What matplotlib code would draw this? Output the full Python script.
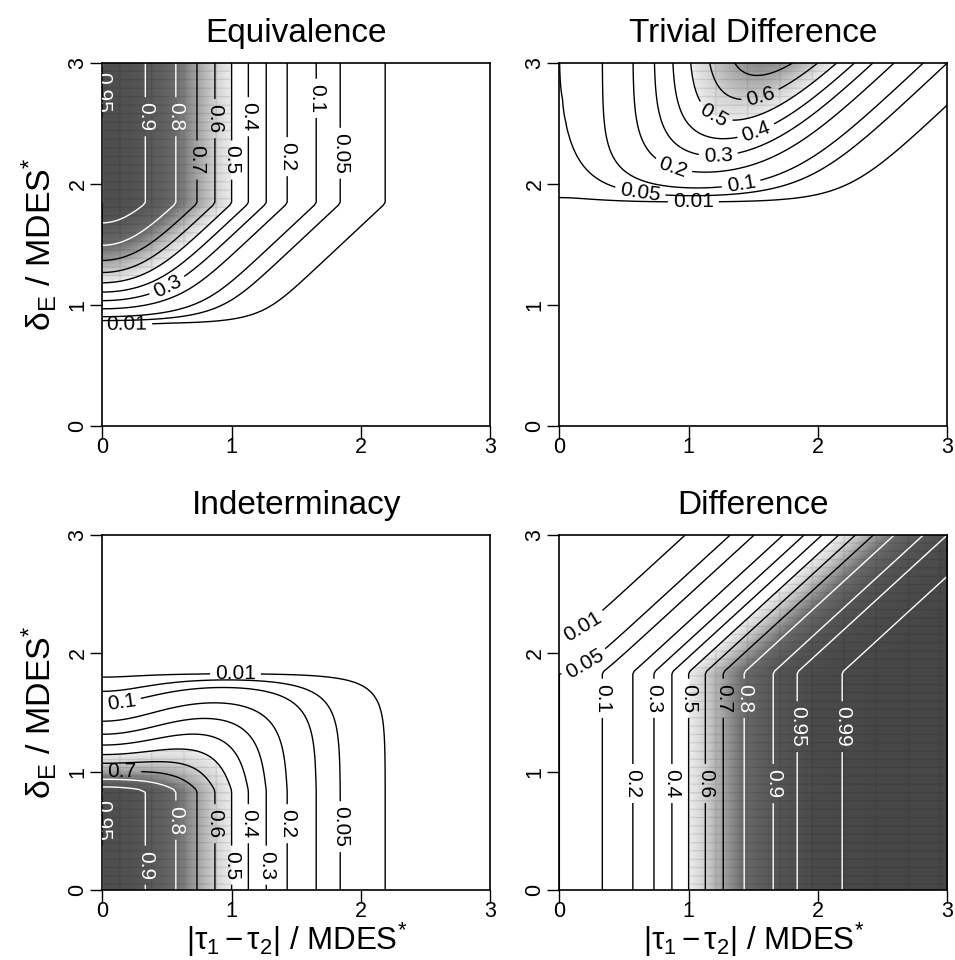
import numpy as np
import matplotlib
matplotlib.use("Agg")
import matplotlib.pyplot as plt
from matplotlib.colors import LinearSegmentedColormap

plt.rcParams['font.family'] = ['Liberation Sans', 'DejaVu Sans']
plt.rcParams['mathtext.fontset'] = 'custom'
plt.rcParams['mathtext.rm'] = 'Liberation Sans'
plt.rcParams['mathtext.it'] = 'Liberation Sans:italic'

# Critical values: 95% CI for the difference test, 90% CI for equivalence (TOST)
z_diff = 1.96
z_equiv = 1.645

titles = ["Equivalence", "Trivial Difference", "Indeterminacy", "Difference"]
levels = [0.01, 0.05, 0.1, 0.2, 0.3, 0.4, 0.5, 0.6, 0.7, 0.8, 0.9, 0.95, 0.99]
ticks = [0, 1, 2, 3]

# where each contour label sits (x, y in axis units)
labels_equiv = [(0.02, 2.76), (0.317, 2.556), (0.541, 2.556), (0.704, 2.198), (0.846, 2.54),
                (0.975, 2.198), (1.104, 2.556), (0.498, 1.165), (1.40, 2.226), (1.632, 2.708),
                (1.813, 2.254), (0.189, 0.83)]
labels_trivial = [(1.552, 2.736), (1.204, 2.584), (1.527, 2.419), (1.23, 2.226), (0.882, 2.143),
                  (1.41, 1.978), (0.624, 1.923), (1.036, 1.83)]
labels_indet = [(1.03, 1.835), (0.15, 1.583), (0.15, 0.986), (0.02, 0.59), (0.562, 0.59),
                (0.33, 0.21), (0.858, 0.56), (1.117, 0.56), (1.413, 0.56), (1.825, 0.535),
                (0.995, 0.21), (1.258, 0.21)]
labels_diff = [(0.173, 2.24), (0.186, 1.93), (0.315, 1.62), (0.689, 1.62), (0.974, 1.62),
               (1.232, 1.62), (1.425, 1.62), (0.56, 0.90), (0.856, 0.90), (1.114, 0.90),
               (1.643, 0.90), (1.826, 1.38), (2.16, 1.38)]
label_sets = [labels_equiv, labels_trivial, labels_indet, labels_diff]

# estimate d ~ N(x, s) in MDES* units, where MDES* = z_diff * SE
s = 1.0 / z_diff
w_diff = z_diff * s
w_equiv = z_equiv * s


def erf(v):
    sign = np.sign(v)
    a = np.abs(v)
    t = 1.0 / (1.0 + 0.3275911 * a)
    poly = ((((1.061405429 * t - 1.453152027) * t + 1.421413741) * t
             - 0.284496736) * t + 0.254829592) * t
    return sign * (1.0 - poly * np.exp(-a * a))


def Phi(v):
    return 0.5 * (1.0 + erf(v / np.sqrt(2.0)))


def p_abs_below(a, x):
    """P(|d| < a) for d ~ N(x, s); zero when a <= 0."""
    a = np.maximum(a, 0.0)
    return np.where(a > 0, Phi((a - x) / s) - Phi((-a - x) / s), 0.0)


def outcome_probs(x, y):
    inside_ci = p_abs_below(np.full_like(x, w_diff), x)
    margin = y - w_equiv
    eq = p_abs_below(np.minimum(w_diff, margin), x)
    triv = np.maximum(p_abs_below(margin, x) - inside_ci, 0.0)
    indet = inside_ci - eq
    diff = 1.0 - p_abs_below(np.maximum(w_diff, margin), x)
    return [eq, triv, indet, diff]


gx = np.linspace(0, 3, 121)
GX, GY = np.meshgrid(gx, gx)
fields = outcome_probs(GX, GY)

fx = np.linspace(0, 3, 1001)
FX, FY = np.meshgrid(fx, fx)
fine = outcome_probs(FX, FY)

shade = LinearSegmentedColormap.from_list(
    "shade",
    [(0.0, (1, 1, 1)), (0.4999, (1, 1, 1)), (0.5, (0.93, 0.93, 0.93)),
     (0.6, (0.82, 0.82, 0.82)), (0.7, (0.64, 0.64, 0.64)), (0.8, (0.42, 0.42, 0.42)),
     (0.9, (0.34, 0.34, 0.34)), (0.95, (0.31, 0.31, 0.31)), (1.0, (0.28, 0.28, 0.28))])

line_colors = ['white' if lv >= 0.8 else 'black' for lv in levels]

# faint tile seams of the shaded raster
seam_dx, seam_dy = 0.248, 0.0704
seam_x0 = [0.137, 0.216, 0.137, 0.216]
seam_y0 = 0.048

xlabel_text = r'$\mathregular{|\tau_1\,{-}\,\tau_2|}$ / MDES$^\mathregular{*}$'
ylabel_text = r'δ$_\mathregular{E}$ / MDES$^\mathregular{*}$'

W, H = 955, 960
fig = plt.figure(figsize=(W / 100, H / 100), dpi=100)
boxes = [(102.3, 63, 490.3, 426), (559.3, 63, 947.3, 426),
         (102.3, 535, 490.3, 890), (559.3, 535, 947.3, 890)]

for i, (x0, y0, x1, y1) in enumerate(boxes):
    ax = fig.add_axes([x0 / W, 1 - y1 / H, (x1 - x0) / W, (y1 - y0) / H])
    ax.imshow(fine[i], extent=[0, 3, 0, 3], origin='lower', cmap=shade,
              vmin=0, vmax=1, interpolation='bilinear', aspect='auto')

    sx = np.abs(((FX - seam_x0[i] + seam_dx / 2) % seam_dx) - seam_dx / 2) < 0.0045
    sy = np.abs(((FY - seam_y0 + seam_dy / 2) % seam_dy) - seam_dy / 2) < 0.0045
    seam = np.zeros(FX.shape + (4,))
    seam[..., 3] = np.where((sx | sy) & (fine[i] >= 0.5), 0.12, 0.0)
    ax.imshow(seam, extent=[0, 3, 0, 3], origin='lower', aspect='auto',
              interpolation='antialiased')

    cs = ax.contour(GX, GY, fields[i], levels=levels, colors=line_colors, linewidths=1.0)
    texts = ax.clabel(cs, manual=label_sets[i], inline=True, inline_spacing=5,
                      fmt=lambda v: f"{v:g}", fontsize=15)
    for t in texts:
        t.set_clip_on(True)
    ax.set_xlim(0, 3)
    ax.set_ylim(0, 3)
    ax.set_xticks(ticks)
    ax.set_yticks(ticks)
    ax.tick_params(direction='out', length=9, width=1, labelsize=15.5, pad=1)
    ax.tick_params(axis='x', pad=-1)
    for lab in ax.get_yticklabels():
        lab.set_rotation(90)
        lab.set_va('center')
    for sp in ax.spines.values():
        sp.set_linewidth(1.2)
    ax.set_title(titles[i], fontsize=24, pad=15)
    if i in (0, 2):
        ax.set_ylabel(ylabel_text, fontsize=24.5, labelpad=6)
    if i in (2, 3):
        fig.text((x0 + x1) / 2 / W, 1 / H, xlabel_text, ha='center', va='bottom',
                 fontsize=22.5)

fig.savefig("out.png", dpi=100)
